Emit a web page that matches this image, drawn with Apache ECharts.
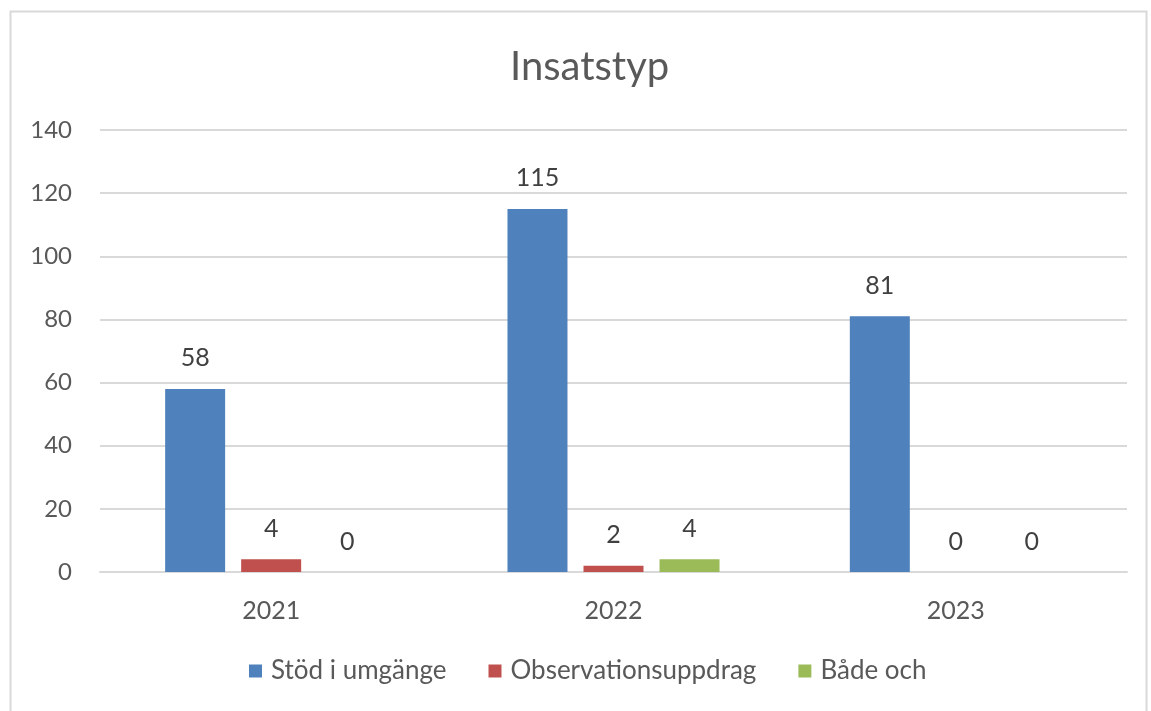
<!DOCTYPE html>
<html>
<head>
<meta charset="utf-8">
<script src="https://cdn.jsdelivr.net/npm/echarts@6/dist/echarts.min.js"></script>
<style>
  html, body { margin: 0; padding: 0; background: #fff; }
  #chart { width: 1151px; height: 711px; }
</style>
</head>
<body>
<div id="chart"></div>
<script>
  const years = ['2021', '2022', '2023'];
  const stod = [58, 115, 81];
  const observation = [4, 2, 0];
  const bade = [0, 4, 0];
  const seriesNames = ['Stöd i umgänge', 'Observationsuppdrag', 'Både och'];
  const colors = ['#4F81BD', '#C0504D', '#9BBB59'];

  const font = 'Lato, Carlito, Calibri, sans-serif';

  const makeSeries = (name, data, color) => ({
    name,
    type: 'bar',
    data,
    barWidth: 60,
    barGap: '26.7%',
    itemStyle: { color },
    label: {
      show: true,
      position: 'top',
      distance: 18,
      color: '#404040',
      fontSize: 25,
      fontFamily: font,
    },
  });

  const chart = echarts.init(document.getElementById('chart'));
  chart.setOption({
    animation: false,
    title: {
      text: 'Insatstyp',
      left: 505,
      top: 42,
      textStyle: { color: '#595959', fontSize: 40, fontWeight: 'normal', fontFamily: font },
    },
    graphic: [{
      type: 'rect',
      shape: { x: 10.5, y: 11.5, width: 1136, height: 720 },
      style: { fill: 'none', stroke: '#d9d9d9', lineWidth: 2 },
      silent: true,
    }],
    legend: {
      bottom: 22,
      left: 244,
      itemWidth: 13,
      itemHeight: 13,
      itemGap: 42,
      icon: 'rect',
      textStyle: { color: '#595959', fontSize: 26, fontFamily: font, padding: [0, 0, 0, 4] },
      data: seriesNames,
    },
    grid: { left: 100, right: 24, top: 130, bottom: 139, containLabel: false },
    xAxis: {
      type: 'category',
      data: years,
      axisLine: { show: true, lineStyle: { color: '#d9d9d9', width: 2 } },
      axisTick: { show: false },
      axisLabel: { color: '#595959', fontSize: 25, fontFamily: font, margin: 26 },
    },
    yAxis: {
      type: 'value',
      min: 0,
      max: 140,
      interval: 20,
      axisLine: { show: false },
      axisTick: { show: false },
      splitLine: { lineStyle: { color: '#d9d9d9', width: 2 } },
      axisLabel: { color: '#595959', fontSize: 24, fontFamily: font, margin: 28 },
    },
    series: [
      makeSeries(seriesNames[0], stod, colors[0]),
      makeSeries(seriesNames[1], observation, colors[1]),
      makeSeries(seriesNames[2], bade, colors[2]),
    ],
  });
</script>
</body>
</html>
